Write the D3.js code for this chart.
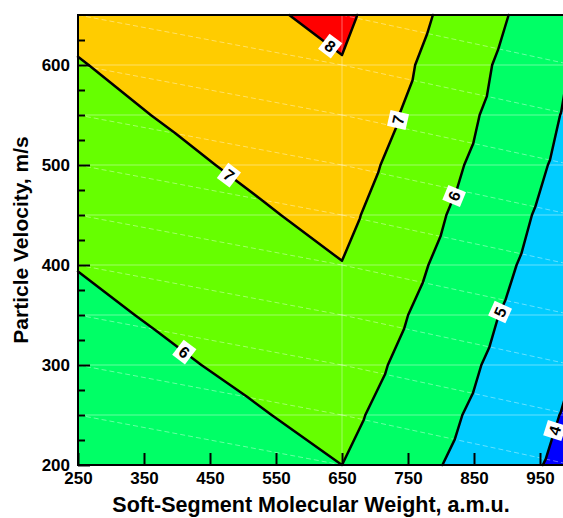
<!DOCTYPE html>
<html>
<head>
<meta charset="utf-8">
<script src="https://cdn.jsdelivr.net/npm/d3@7"></script>
<style>
  body { margin: 0; background: #fff; }
  svg { display: block; }
  text { font-family: "Liberation Sans", Arial, Helvetica, sans-serif; font-weight: bold; }
</style>
</head>
<body>
<svg id="chart" width="563" height="518"></svg>
<script>
// Mesh nodes: molecular weight columns and velocity rows
const xNodes = [250, 650, 1000];
const yNodes = [200, 250, 300, 350, 400, 450, 500, 550, 600, 650];

// Field value at each node, one array per molecular-weight column (rows follow yNodes)
const valuesAt250  = [5.10, 5.34, 5.57, 5.80, 6.03, 6.27, 6.50, 6.73, 6.96, 7.20];
const valuesAt650  = [6.00, 6.24, 6.49, 6.73, 6.98, 7.22, 7.46, 7.71, 7.95, 8.20];
const valuesAt1000 = [3.70, 3.86, 4.02, 4.18, 4.36, 4.52, 4.70, 4.84, 4.95, 5.15];

// Contour levels and the fill of each band (below 4, 4-5, 5-6, 6-7, 7-8, above 8)
const levels = [4, 5, 6, 7, 8];
const bandColors = ["#0000FF", "#00CCFF", "#00FF66", "#66FF00", "#FFCC00", "#FF0000"];

// Where each contour carries its value label (molecular weight, velocity)
const labelLevels = [8, 7, 7, 6, 6, 5, 4];
const labelX = [631, 735, 480, 410, 816, 886, 970];
const labelY = [618, 545, 491, 312, 470, 354, 235];

// Axis ticks
const xTicks = [250, 350, 450, 550, 650, 750, 850, 950];
const yTicks = [200, 300, 400, 500, 600];
const yMinorTicks = [225, 250, 275, 325, 350, 375, 425, 450, 475, 525, 550, 575, 625];

const xTitle = "Soft-Segment Molecular Weight, a.m.u.";
const yTitle = "Particle Velocity, m/s";

const svg = d3.select("#chart");
const x = d3.scaleLinear().domain([250, 1000]).range([78, 573]);
const y = d3.scaleLinear().domain([200, 650]).range([465, 15]);

const columns = [valuesAt250, valuesAt650, valuesAt1000];
const node = (i, k) => ({ x: xNodes[i], y: yNodes[k], v: columns[i][k] });

// Split each mesh cell along its upper-left to lower-right diagonal
const triangles = [];
for (let i = 0; i < xNodes.length - 1; i++) {
  for (let k = 0; k < yNodes.length - 1; k++) {
    const ul = node(i, k + 1), ur = node(i + 1, k + 1);
    const ll = node(i, k), lr = node(i + 1, k);
    triangles.push([ul, ur, lr]);
    triangles.push([ul, lr, ll]);
  }
}

const lerp = (a, b, c) => {
  const t = (c - a.v) / (b.v - a.v);
  return { x: a.x + t * (b.x - a.x), y: a.y + t * (b.y - a.y), v: c };
};

// Part of a polygon where the linear field is at least c
function clipAbove(poly, c) {
  const out = [];
  for (let j = 0; j < poly.length; j++) {
    const a = poly[j], b = poly[(j + 1) % poly.length];
    const ain = a.v >= c, bin = b.v >= c;
    if (ain) out.push(a);
    if (ain !== bin) out.push(lerp(a, b, c));
  }
  return out;
}

const polyPath = pts => "M" + pts.map(p => x(p.x).toFixed(2) + "," + y(p.y).toFixed(2)).join("L") + "Z";

const plot = svg.append("g");

// Lowest band covers the whole plot, each level paints its region on top
plot.append("rect")
  .attr("x", x(250)).attr("y", y(650))
  .attr("width", x(1000) - x(250)).attr("height", y(200) - y(650))
  .attr("fill", bandColors[0]);

levels.forEach((c, li) => {
  let d = "";
  triangles.forEach(tri => {
    const p = clipAbove(tri, c);
    if (p.length >= 3) d += polyPath(p);
  });
  plot.append("path").attr("d", d).attr("fill", bandColors[li + 1])
    .attr("stroke", bandColors[li + 1]).attr("stroke-width", 0.6).attr("stroke-linejoin", "round");
});

// Faint mesh: rows and inner column solid, cell diagonals dashed
const mesh = plot.append("g").attr("stroke", "#fff").attr("stroke-opacity", 0.4).attr("stroke-width", 1).attr("fill", "none");
yNodes.slice(1, -1).forEach(v => {
  mesh.append("line").attr("x1", x(xNodes[0])).attr("x2", x(xNodes[xNodes.length - 1]))
    .attr("y1", y(v)).attr("y2", y(v));
});
xNodes.slice(1, -1).forEach(v => {
  mesh.append("line").attr("x1", x(v)).attr("x2", x(v)).attr("y1", y(200)).attr("y2", y(650));
});
for (let i = 0; i < xNodes.length - 1; i++) {
  for (let k = 0; k < yNodes.length - 1; k++) {
    mesh.append("line")
      .attr("x1", x(xNodes[i])).attr("y1", y(yNodes[k + 1]))
      .attr("x2", x(xNodes[i + 1])).attr("y2", y(yNodes[k]))
      .attr("stroke-dasharray", "5,3");
  }
}

// Contour lines
const segments = {};
levels.forEach(c => {
  segments[c] = [];
  triangles.forEach(tri => {
    const pts = [];
    for (let j = 0; j < 3; j++) {
      const a = tri[j], b = tri[(j + 1) % 3];
      if ((a.v >= c) !== (b.v >= c)) pts.push(lerp(a, b, c));
    }
    if (pts.length === 2) segments[c].push(pts);
  });
  const d = segments[c].map(s => `M${x(s[0].x)},${y(s[0].y)}L${x(s[1].x)},${y(s[1].y)}`).join("");
  plot.append("path").attr("d", d).attr("fill", "none").attr("stroke", "#000")
    .attr("stroke-width", 2.5).attr("stroke-linecap", "round");
});

// Value labels placed on the nearest point of their contour
labelLevels.forEach((c, n) => {
  const px = x(labelX[n]), py = y(labelY[n]);
  let best = null;
  segments[c].forEach(s => {
    const ax = x(s[0].x), ay = y(s[0].y), bx = x(s[1].x), by = y(s[1].y);
    const dx = bx - ax, dy = by - ay;
    let t = ((px - ax) * dx + (py - ay) * dy) / (dx * dx + dy * dy);
    t = Math.max(0, Math.min(1, t));
    const qx = ax + t * dx, qy = ay + t * dy;
    const dist = Math.hypot(qx - px, qy - py);
    if (!best || dist < best.dist) best = { dist, qx, qy, ang: Math.atan2(dy, dx) * 180 / Math.PI };
  });
  let ang = best.ang;
  if (ang > 90) ang -= 180;
  if (ang <= -90) ang += 180;
  const g = plot.append("g").attr("transform", `translate(${best.qx},${best.qy}) rotate(${ang})`);
  g.append("rect").attr("x", -8).attr("y", -9.5).attr("width", 16).attr("height", 19).attr("fill", "#fff");
  g.append("text").attr("text-anchor", "middle").attr("dy", "0.36em")
    .attr("font-size", 16).attr("fill", "#000").text(c);
});

// Plot frame
svg.append("rect")
  .attr("x", x(250)).attr("y", y(650))
  .attr("width", x(1000) - x(250)).attr("height", y(200) - y(650))
  .attr("fill", "none").attr("stroke", "#000").attr("stroke-width", 2);

// Axes with inward ticks
const xAxis = svg.append("g").attr("transform", `translate(0,${y(200)})`)
  .call(d3.axisBottom(x).tickValues(xTicks).tickFormat(d3.format("d")).tickSize(-12).tickPadding(7));
const yAxis = svg.append("g").attr("transform", `translate(${x(250)},0)`)
  .call(d3.axisLeft(y).tickValues(yTicks).tickFormat(d3.format("d")).tickSize(-12).tickPadding(8));
const yMinor = svg.append("g").attr("transform", `translate(${x(250)},0)`)
  .call(d3.axisLeft(y).tickValues(yMinorTicks).tickFormat("").tickSize(-7));
[xAxis, yAxis, yMinor].forEach(a => {
  a.select(".domain").remove();
  a.selectAll(".tick line").attr("stroke", "#000").attr("stroke-width", 2);
  a.selectAll(".tick text").attr("font-size", 17).attr("fill", "#000")
    .attr("font-family", "'Liberation Sans', Arial, sans-serif").attr("font-weight", "bold");
});

// Axis titles
svg.append("text").attr("x", 311).attr("y", 512).attr("text-anchor", "middle")
  .attr("font-size", 21.5).attr("fill", "#000").text(xTitle);
svg.append("text").attr("transform", `translate(28,240) rotate(-90)`).attr("text-anchor", "middle")
  .attr("font-size", 21).attr("fill", "#000").text(yTitle);
</script>
</body>
</html>
